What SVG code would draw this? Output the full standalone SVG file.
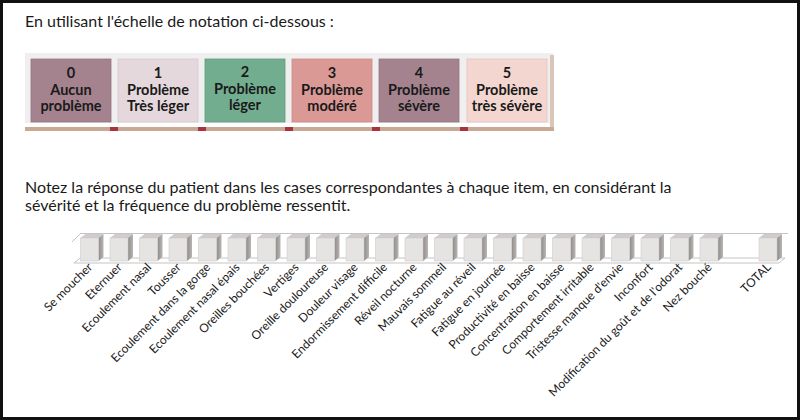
<svg xmlns="http://www.w3.org/2000/svg" width="800" height="420" viewBox="0 0 800 420">
<style>
.t{font-family:Lato,"Noto Sans",sans-serif;fill:#1a1a1a}
.title{font-size:16px}
.para{font-size:16px}
.bx{font-family:Lato,"Noto Sans",sans-serif;font-size:14.5px;font-weight:bold;fill:#1a1a1a;text-anchor:middle}
.lb{font-family:Lato,"Noto Sans",sans-serif;font-size:12px;fill:#1a1a1a;text-anchor:end}
.front{fill:#e6e3e3;stroke:#cfcbcb;stroke-width:0.6}
.top{fill:#cfcccb}
.grid{stroke:#c4c4c4;stroke-width:1;fill:none}
.red{fill:#a8323e}
</style>
<defs>
<linearGradient id="sg" x1="0" y1="0" x2="1" y2="0">
<stop offset="0" stop-color="#8f8b89"/>
<stop offset="1" stop-color="#b9b5b3"/>
</linearGradient>
<g id="bar">
<polygon class="top" points="0,238 5,234 23,234 18,238"/>
<polygon points="18,238 23,234 23,257 18,261" fill="url(#sg)"/>
<rect class="front" x="0" y="238" width="18" height="23"/>
</g>
</defs>
<rect x="1.5" y="1.5" width="797" height="417" fill="#ffffff" stroke="#111111" stroke-width="3"/>
<text class="t title" x="25" y="27">En utilisant l'échelle de notation ci-dessous :</text>

<g id="scale">
<rect x="25" y="53" width="528" height="70" fill="#efefef"/>
<rect x="550" y="55" width="4" height="76" fill="#d9c6b8"/>
<rect x="25" y="127" width="529" height="4" fill="#c7a994"/>
<rect class="red" x="110" y="127" width="8" height="4"/>
<rect class="red" x="198" y="127" width="8" height="4"/>
<rect class="red" x="285" y="127" width="8" height="4"/>
<rect class="red" x="372" y="127" width="8" height="4"/>
<rect class="red" x="460" y="127" width="8" height="4"/>
</g>
<g id="s0">
<rect x="31" y="59" width="80" height="63" fill="#a4838f" stroke="#977582" stroke-width="0.8"/>
<text class="bx" x="71" y="78">0</text><text class="bx" x="71" y="95">Aucun</text><text class="bx" x="71" y="111">problème</text>
</g>
<g id="s1">
<rect x="118" y="59" width="80" height="63" fill="#e5d8dc" stroke="#d8c8cd" stroke-width="0.8"/>
<text class="bx" x="158" y="78">1</text><text class="bx" x="158" y="95">Problème</text><text class="bx" x="158" y="111">Très léger</text>
</g>
<g id="s2">
<rect x="205" y="59" width="80" height="63" fill="#72ad8f" stroke="#5f9c7d" stroke-width="0.8"/>
<text class="bx" x="245" y="77">2</text><text class="bx" x="245" y="94">Problème</text><text class="bx" x="245" y="110">léger</text>
</g>
<g id="s3">
<rect x="292" y="59" width="80" height="63" fill="#db9996" stroke="#cc8a87" stroke-width="0.8"/>
<text class="bx" x="332" y="78">3</text><text class="bx" x="332" y="95">Problème</text><text class="bx" x="332" y="111">modéré</text>
</g>
<g id="s4">
<rect x="379" y="59" width="80" height="63" fill="#a4838f" stroke="#977582" stroke-width="0.8"/>
<text class="bx" x="419" y="78">4</text><text class="bx" x="419" y="95">Problème</text><text class="bx" x="419" y="111">sévère</text>
</g>
<g id="s5">
<rect x="467" y="59" width="80" height="63" fill="#f2d6cf" stroke="#e6c6be" stroke-width="0.8"/>
<text class="bx" x="507" y="78">5</text><text class="bx" x="507" y="95">Problème</text><text class="bx" x="507" y="111">très sévère</text>
</g>

<text class="t para" x="25" y="193">Notez la réponse du patient dans les cases correspondantes à chaque item, en considérant la</text>
<text class="t para" x="25" y="211">sévérité et la fréquence du problème ressentit.</text>

<g id="chart-frame">
<polygon points="74,263 80,258 785,258 779,263" fill="#ffffff" stroke="#c4c4c4" stroke-width="1"/>
<line class="grid" x1="80" y1="233.5" x2="788" y2="233.5"/>
<line class="grid" x1="72" y1="242" x2="80" y2="234"/>
</g>

<g id="bars">
<use href="#bar" x="80.5"/>
<use href="#bar" x="110"/>
<use href="#bar" x="139.5"/>
<use href="#bar" x="169"/>
<use href="#bar" x="198.5"/>
<use href="#bar" x="228"/>
<use href="#bar" x="257.5"/>
<use href="#bar" x="287"/>
<use href="#bar" x="316.5"/>
<use href="#bar" x="346"/>
<use href="#bar" x="375.5"/>
<use href="#bar" x="405"/>
<use href="#bar" x="434.5"/>
<use href="#bar" x="464"/>
<use href="#bar" x="493.5"/>
<use href="#bar" x="523"/>
<use href="#bar" x="552.5"/>
<use href="#bar" x="582"/>
<use href="#bar" x="611.5"/>
<use href="#bar" x="641"/>
<use href="#bar" x="670.5"/>
<use href="#bar" x="700"/>
<use href="#bar" x="759"/>
</g>

<g id="labels">
<text class="lb" transform="translate(93,268) rotate(-45)">Se moucher</text>
<text class="lb" transform="translate(122.5,268) rotate(-45)">Eternuer</text>
<text class="lb" transform="translate(152,268) rotate(-45)">Ecoulement nasal</text>
<text class="lb" transform="translate(181.5,268) rotate(-45)">Tousser</text>
<text class="lb" transform="translate(211,268) rotate(-45)">Ecoulement dans la gorge</text>
<text class="lb" transform="translate(240.5,268) rotate(-45)">Ecoulement nasal épais</text>
<text class="lb" transform="translate(270,268) rotate(-45)">Oreilles bouchées</text>
<text class="lb" transform="translate(299.5,268) rotate(-45)">Vertiges</text>
<text class="lb" transform="translate(329,268) rotate(-45)">Oreille douloureuse</text>
<text class="lb" transform="translate(358.5,268) rotate(-45)">Douleur visage</text>
<text class="lb" transform="translate(388,268) rotate(-45)">Endormissement difficile</text>
<text class="lb" transform="translate(417.5,268) rotate(-45)">Réveil nocturne</text>
<text class="lb" transform="translate(447,268) rotate(-45)">Mauvais sommeil</text>
<text class="lb" transform="translate(476.5,268) rotate(-45)">Fatigue au réveil</text>
<text class="lb" transform="translate(506,268) rotate(-45)">Fatigue en journée</text>
<text class="lb" transform="translate(535.5,268) rotate(-45)">Productivité en baisse</text>
<text class="lb" transform="translate(565,268) rotate(-45)">Concentration en baisse</text>
<text class="lb" transform="translate(594.5,268) rotate(-45)">Comportement irritable</text>
<text class="lb" transform="translate(624,268) rotate(-45)">Tristesse manque d'envie</text>
<text class="lb" transform="translate(653.5,268) rotate(-45)">Inconfort</text>
<text class="lb" transform="translate(683,268) rotate(-45)">Modification du goût et de l'odorat</text>
<text class="lb" transform="translate(712.5,268) rotate(-45)">Nez bouché</text>
<text class="lb" transform="translate(771.5,268) rotate(-45)">TOTAL</text>
</g>
</svg>
